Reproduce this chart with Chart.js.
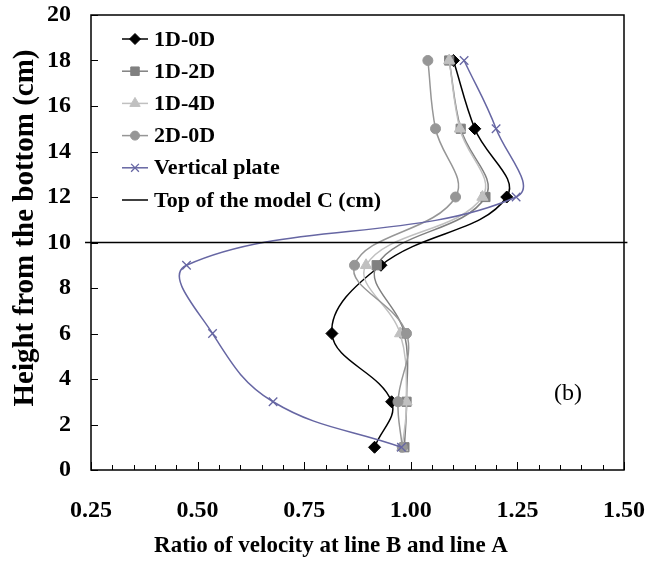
<!DOCTYPE html>
<html>
<head>
<meta charset="utf-8">
<script src="https://cdn.jsdelivr.net/npm/chart.js@4.4.0/dist/chart.umd.min.js"></script>
<style>
  html, body { margin: 0; padding: 0; background: #fff; }
  #wrap { width: 663px; height: 567px; }
</style>
</head>
<body>
<div id="wrap"><canvas id="velocity-chart" width="663" height="567"></canvas></div>
<script>
// heights (cm) where the velocity ratio was measured
const heights = [1, 3, 6, 9, 12, 15, 18];

const ratio1D0D = [0.915, 0.955, 0.815, 0.93, 1.225, 1.15, 1.10];
const ratio1D2D = [0.985, 0.99, 0.985, 0.92, 1.175, 1.117, 1.09];
const ratio1D4D = [0.98, 0.99, 0.975, 0.895, 1.168, 1.115, 1.09];
const ratio2D0D = [0.98, 0.97, 0.99, 0.868, 1.105, 1.058, 1.04];
const ratioPlate = [0.978, 0.677, 0.535, 0.474, 1.247, 1.20, 1.125];

const modelTop = 10;
const modelTopSpan = [0.236, 1.508];

const xMajorTicks = [0.25, 0.50, 0.75, 1.00, 1.25, 1.50];
const yTicks = [0, 2, 4, 6, 8, 10, 12, 14, 16, 18, 20];

const serif = "'Liberation Serif', 'Times New Roman', serif";

function toPoints(xs) {
    return xs.map((x, i) => ({ x: x, y: heights[i] }));
}

function series(label, xs, color, style, radius, order) {
    return {
        label: label,
        data: toPoints(xs),
        showLine: true,
        borderColor: color,
        backgroundColor: color,
        borderWidth: 1.5,
        pointStyle: style,
        pointRadius: radius,
        pointBorderColor: color,
        pointBackgroundColor: color,
        pointBorderWidth: style === 'crossRot' ? 1.3 : 1,
        tension: 0.4,
        order: order
    };
}

const datasets = [
    series('1D-0D', ratio1D0D, '#000000', 'rectRot', 6, 6),
    series('1D-2D', ratio1D2D, '#808080', 'rect', 6.5, 5),
    series('1D-4D', ratio1D4D, '#c0c0c0', 'triangle', 6.5, 4),
    series('2D-0D', ratio2D0D, '#969696', 'circle', 5, 3),
    series('Vertical plate', ratioPlate, '#6666a3', 'crossRot', 6, 2),
    {
        label: 'Top of the model C (cm)',
        data: modelTopSpan.map(x => ({ x: x, y: modelTop })),
        showLine: true,
        borderColor: '#000000',
        borderWidth: 1.5,
        pointRadius: 0,
        clip: false,
        order: 1
    }
];

// box, inward tick marks, legend and texts drawn over the plot
const decorations = {
    id: 'decorations',
    afterDraw(chart) {
        const ctx = chart.ctx;
        const area = chart.chartArea;
        const xs = chart.scales.x;
        const ys = chart.scales.y;
        ctx.save();
        ctx.strokeStyle = '#000';
        ctx.lineWidth = 1;
        xs.ticks.forEach(t => {
            const px = Math.round(xs.getPixelForValue(t.value)) + 0.5;
            const major = Math.abs(t.value * 4 - Math.round(t.value * 4)) < 1e-6;
            ctx.beginPath();
            ctx.moveTo(px, area.bottom);
            ctx.lineTo(px, area.bottom - (major ? 8 : 5));
            ctx.stroke();
        });
        yTicks.forEach(v => {
            const py = Math.round(ys.getPixelForValue(v)) + 0.5;
            ctx.beginPath();
            ctx.moveTo(area.left, py);
            ctx.lineTo(area.left + 7, py);
            ctx.stroke();
        });
        ctx.lineWidth = 1.5;
        ctx.strokeRect(area.left, area.top, area.right - area.left, area.bottom - area.top);

        // legend
        ctx.font = 'bold 22px ' + serif;
        ctx.textBaseline = 'middle';
        ctx.textAlign = 'left';
        chart.data.datasets.forEach((ds, i) => {
            const y = 39 + i * 32.2;
            ctx.strokeStyle = ds.borderColor;
            ctx.lineWidth = 1.5;
            ctx.beginPath();
            ctx.moveTo(122, y);
            ctx.lineTo(148, y);
            ctx.stroke();
            if (ds.pointRadius > 0) {
                ctx.fillStyle = ds.pointBackgroundColor;
                ctx.lineWidth = ds.pointBorderWidth;
                Chart.helpers.drawPoint(ctx, {
                    pointStyle: ds.pointStyle,
                    radius: ds.pointRadius - 0.5,
                    rotation: 0,
                    borderWidth: ds.pointBorderWidth
                }, 135, y);
            }
            ctx.fillStyle = '#000';
            ctx.fillText(ds.label, 154, y + 1);
        });

        // axis titles
        ctx.fillStyle = '#000';
        ctx.textAlign = 'center';
        ctx.font = 'bold 23px ' + serif;
        ctx.fillText('Ratio of velocity at line B and line A', 331, 546);
        ctx.save();
        ctx.translate(26, 228);
        ctx.rotate(-Math.PI / 2);
        ctx.font = 'bold 29px ' + serif;
        ctx.fillText('Height from the bottom (cm)', 0, 0);
        ctx.restore();

        ctx.font = '24px ' + serif;
        ctx.fillText('(b)', 568, 394);
        ctx.restore();
    }
};

new Chart(document.getElementById('velocity-chart').getContext('2d'), {
    type: 'scatter',
    data: { datasets: datasets },
    options: {
        responsive: false,
        animation: false,
        devicePixelRatio: 1,
        layout: { padding: { top: 15, right: 39, left: 0, bottom: 0 } },
        plugins: {
            legend: { display: false },
            tooltip: { enabled: false }
        },
        scales: {
            x: {
                type: 'linear',
                min: 0.25,
                max: 1.5,
                grid: { display: false },
                border: { display: false },
                ticks: {
                    stepSize: 0.05,
                    autoSkip: false,
                    maxRotation: 0,
                    minRotation: 0,
                    padding: 18,
                    color: '#000',
                    font: { family: serif, size: 24, weight: 'bold' },
                    callback: function (v) {
                        const hit = xMajorTicks.find(m => Math.abs(m - v) < 1e-6);
                        return hit === undefined ? '' : hit.toFixed(2);
                    }
                },
                afterFit: function (scale) {
                    scale.height = 97;
                    scale.paddingLeft = 0;
                    scale.paddingRight = 0;
                }
            },
            y: {
                type: 'linear',
                min: 0,
                max: 20,
                grid: { display: false },
                border: { display: false },
                ticks: {
                    stepSize: 2,
                    padding: 12,
                    color: '#000',
                    font: { family: serif, size: 24, weight: 'bold' }
                },
                afterFit: function (scale) {
                    scale.width = 91;
                    scale.paddingTop = 0;
                    scale.paddingBottom = 0;
                }
            }
        }
    },
    plugins: [decorations]
});
</script>
</body>
</html>
